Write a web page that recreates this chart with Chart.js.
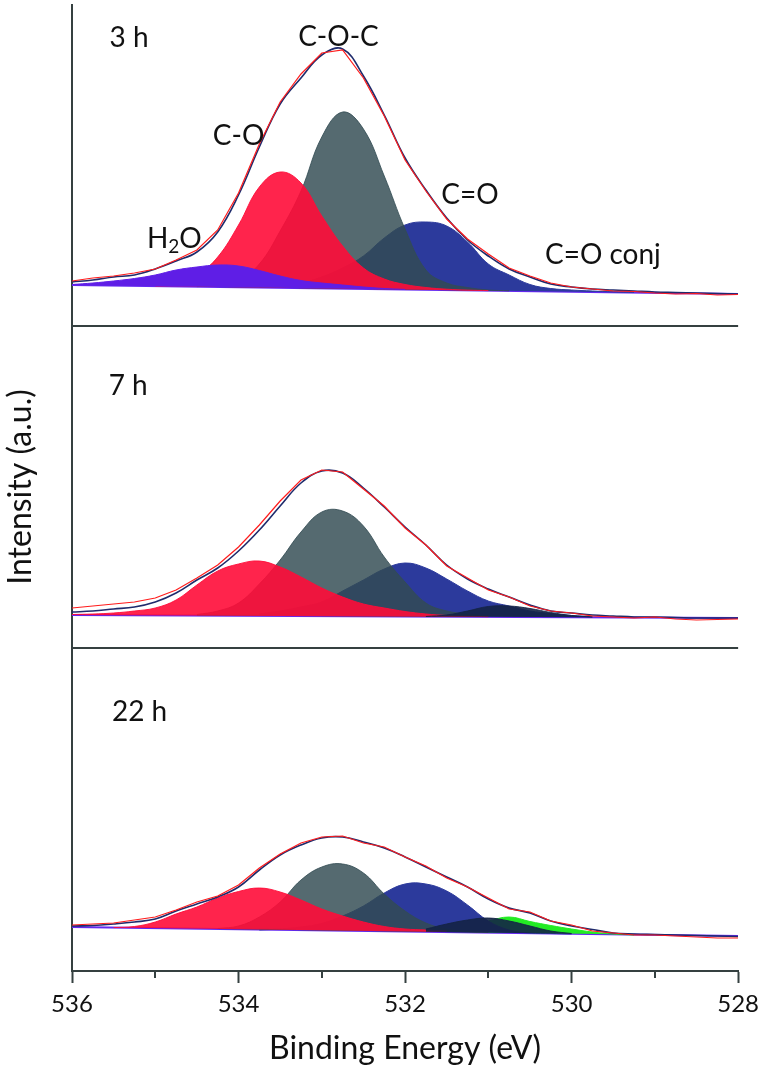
<!DOCTYPE html>
<html lang="en">
<head>
  <meta charset="UTF-8" />
  <title>O 1s spectra</title>
  <style>
    html, body { margin: 0; padding: 0; background: #fff; }
    #wrap { width: 766px; height: 1070px; }
  </style>
</head>
<body>
  <div id="wrap"><canvas id="xpsChart"></canvas></div>

  <script src="https://cdn.jsdelivr.net/npm/chart.js@4"></script>
  <script>
    // binding energy grid (eV), same for every curve
    const energies = [536, 535.75, 535.5, 535.25, 535, 534.75, 534.5, 534.25, 534, 533.75, 533.5, 533.25,
      533, 532.75, 532.5, 532.25, 532, 531.75, 531.5, 531.25, 531, 530.75, 530.5, 530.25,
      530, 529.75, 529.5, 529.25, 529, 528.75, 528.5, 528.25, 528];
    const xTicks = [536, 534, 532, 530, 528];

    // 3 h
    const raw3 = [45, 48, 50, 53, 57, 66, 76, 96, 133, 182, 224, 252, 273, 276, 248, 210, 166, 135, 107, 87, 72, 58, 50, 43, 39, 37, 35, 34.5, 33, 32, 32.5, 31, 31.5];
    const fit3 = [44, 46, 49, 51, 57, 65, 74, 94, 131, 179, 222, 248, 271, 277, 250, 211, 168, 136, 108, 86, 70, 57, 49, 42, 39, 37, 36, 35, 34, 33.5, 33, 32.5, 32];
    const h2o3 = [41.5, 43, 45, 47.5, 51, 56, 59, 61, 60, 55.5, 50, 45.5, 43, 41, 39, 37.5, 36.6,
      null, null, null, null, null, null, null, null, null, null, null, null, null, null, null, null];
    const co3 = [null, null, null, null, 40.5, 43, 51, 69, 101, 139, 154, 143, 110, 80, 58, 47, 41.5, 38.5, 36.8, 35.9, 35.4,
      null, null, null, null, null, null, null, null, null, null, null, null];
    const coc3 = [null, null, null, null, null, null, 39.4, 40.5, 46, 62, 95, 135, 189, 214, 197, 150, 97, 56, 43, 38.5, 36, 35.2,
      null, null, null, null, null, null, null, null, null, null, null];
    const cdo3 = [null, null, null, null, null, null, null, null, null, 39.2, 40.5, 43, 49, 58, 70, 88, 101, 104, 100, 84, 62, 51, 41.5, 37.5, 36, 35, 34.2, 33.6,
      null, null, null, null, null];
    const base3 = [{ x: 536, y: 41 }, { x: 528, y: 32 }];

    // 7 h
    const raw7 = [40, 42, 44, 46, 50, 58, 70, 83, 101, 123, 147, 168, 178, 176, 159, 142, 120, 103, 82, 70, 58, 51, 42, 37, 35, 32, 31, 30, 31, 29, 28, 28.5, 29];
    const fit7 = [36, 37, 39, 41, 46, 55, 68, 80, 97, 118, 142, 165, 177, 175, 160, 141, 121, 103, 83, 69, 59, 51, 43, 37, 35, 33, 32, 31, 31, 30.5, 30, 30, 30];
    const co7 = [33.5, 34, 35, 37, 40, 48, 63, 77, 84, 87, 81, 71, 60, 51, 44, 40, 36.5, 34, 32.5, 31.8, 31.3,
      null, null, null, null, null, null, null, null, null, null, null, null];
    const coc7 = [null, null, null, null, null, null, 33.5, 37, 45, 64, 88, 116, 136, 137, 122, 91, 66, 45, 37, 34, 32,
      null, null, null, null, null, null, null, null, null, null, null, null];
    const cdo7 = [null, null, null, null, null, null, null, null, null, 34, 37, 41, 46, 57, 68, 79, 85, 80, 69, 57, 47, 42, 37, 34.5, 32.5, 31.5,
      null, null, null, null, null, null, null];
    const conj7 = [null, null, null, null, null, null, null, null, null, null, null, null, null, null, null, null, null,
      31.5, 33, 37, 41.5, 42, 39.5, 35.5, 32.5, 31, null, null, null, null, null, null, null];
    const base7 = [{ x: 536, y: 33 }, { x: 528, y: 30 }];

    // 22 h
    const raw22 = [46, 47, 48, 51, 54, 61, 69, 75, 86, 103, 117, 128, 134, 135, 128, 124, 114, 105, 93, 84, 73, 62, 59, 50, 46, 40, 38, 36, 36, 35, 34, 33, 33];
    const fit22 = [45, 45.5, 47, 49, 52, 60, 67, 74, 84, 101, 116, 126, 133, 134, 129, 123, 114, 104, 94, 84, 72, 63, 58, 50, 45, 41.5, 38, 37, 36.5, 36, 35.5, 35, 34.5];
    const co22 = [null, null, 43.4, 44.5, 49, 57, 64, 73, 79.5, 83, 79, 71, 62, 55, 49, 44.5, 42, 41, 40,
      null, null, null, null, null, null, null, null, null, null, null, null, null, null];
    const coc22 = [null, null, null, null, null, null, null, 42.5, 45, 54, 69, 91, 104, 107, 98, 77, 60, 48, 42, 39.5, 38.5,
      null, null, null, null, null, null, null, null, null, null, null, null];
    const cdo22 = [null, null, null, null, null, null, null, null, null, 41, 42, 44, 47.5, 55, 65, 78, 87, 87, 80, 66, 50, 41, 38, 37.5, 37,
      null, null, null, null, null, null, null, null];
    const conj22 = [null, null, null, null, null, null, null, null, null, null, null, null, null, null, null, null, null,
      42, 47, 51, 53, 50, 45, 40, 37.5, null, null, null, null, null, null, null, null];
    const green22 = [null, null, null, null, null, null, null, null, null, null, null, null, null, null, null, null, null, null, null, null,
      50, 54, 49.5, 45.5, 42, 39, 37, 36, null, null, null, null, null];
    const base22 = [{ x: 536, y: 44 }, { x: 528, y: 35 }];

    const axisColor = '#354040';
    const colors = {
      raw: '#ff1c1c',
      fit: '#1f2b6c',
      h2o: 'rgb(95,30,230)',
      co: 'rgba(255,12,56,0.9)',
      coc: 'rgba(51,76,83,0.83)',
      cdo: 'rgb(44,58,156)',
      conj: 'rgba(20,35,70,0.9)',
      green: 'rgb(35,235,35)',
      base: 'rgb(100,40,240)'
    };

    // first dataset is drawn on top, so each panel lists its curves top-down
    const datasets = [];
    function addPanel(axis, raw, fit, peaks, base) {
      const baseIndex = datasets.length + 2 + peaks.length;
      datasets.push({ label: 'data', data: raw, yAxisID: axis, borderColor: colors.raw, borderWidth: 1.2, tension: 0, fill: false });
      datasets.push({ label: 'fit', data: fit, yAxisID: axis, borderColor: colors.fit, borderWidth: 1.6, tension: 0.4, fill: false });
      peaks.forEach(pk => {
        datasets.push({
          label: pk[0], data: pk[1], yAxisID: axis,
          borderColor: colors[pk[2]], backgroundColor: colors[pk[2]], borderWidth: 1,
          tension: 0.4, fill: baseIndex
        });
      });
      datasets.push({ label: 'background', data: base, yAxisID: axis, borderColor: colors.base, borderWidth: 2, fill: false });
    }
    addPanel('y3', raw3, fit3, [['H2O', h2o3, 'h2o'], ['C-O', co3, 'co'], ['C-O-C', coc3, 'coc'], ['C=O', cdo3, 'cdo']], base3);
    addPanel('y7', raw7, fit7, [['C=O conj', conj7, 'conj'], ['C-O', co7, 'co'], ['C-O-C', coc7, 'coc'], ['C=O', cdo7, 'cdo']], base7);
    addPanel('y22', raw22, fit22, [['C=O conj', conj22, 'conj'], ['C-O', co22, 'co'], ['C-O-C', coc22, 'coc'], ['C=O', cdo22, 'cdo'], ['O=C-O', green22, 'green']], base22);

    // text placed in data units of each panel
    const notes = [
      ['y3', '3 h', 535.55, 288, 'left'],
      ['y3', 'C-O-C', 532.8, 289, 'center'],
      ['y3', 'C-O', 534.0, 190, 'center'],
      ['y3', 'C=O', 531.22, 131, 'center'],
      ['y3', 'C=O conj', 530.32, 71, 'left'],
      ['y7', '7 h', 535.56, 262, 'left'],
      ['y22', '22 h', 535.52, 259, 'left']
    ];

    const panelText = {
      id: 'panelText',
      afterDatasetsDraw(chart) {
        const { ctx, chartArea, scales } = chart;
        ctx.save();
        ctx.strokeStyle = axisColor;
        ctx.lineWidth = 2;
        // panel separators
        ['y3', 'y7'].forEach(id => {
          const y = Math.round(scales[id].bottom);
          ctx.beginPath();
          ctx.moveTo(chartArea.left, y);
          ctx.lineTo(chartArea.right, y);
          ctx.stroke();
        });
        // short minor ticks at odd eV
        scales.x.ticks.forEach(t => {
          if (xTicks.includes(t.value)) return;
          const px = Math.round(scales.x.getPixelForValue(t.value));
          ctx.beginPath();
          ctx.moveTo(px, chartArea.bottom);
          ctx.lineTo(px, chartArea.bottom + 7);
          ctx.stroke();
        });
        ctx.fillStyle = '#111';
        ctx.textBaseline = 'middle';
        ctx.font = '28px Lato';
        notes.forEach(n => {
          ctx.textAlign = n[4];
          ctx.fillText(n[1], scales.x.getPixelForValue(n[2]), scales[n[0]].getPixelForValue(n[3]));
        });
        // H2O with subscript
        let x = scales.x.getPixelForValue(535.1);
        const y = scales.y3.getPixelForValue(87);
        ctx.textAlign = 'left';
        ctx.fillText('H', x, y);
        x += ctx.measureText('H').width;
        ctx.font = '19px Lato';
        ctx.fillText('2', x, y + 8);
        x += ctx.measureText('2').width;
        ctx.font = '28px Lato';
        ctx.fillText('O', x, y);
        ctx.restore();
      }
    };

    function panelAxis(weight, height, title) {
      return {
        type: 'linear',
        position: 'left',
        stack: 'panels',
        stackWeight: height,
        weight: weight,
        min: 0,
        max: height,
        ticks: { display: false },
        grid: { display: false },
        border: { display: true, color: axisColor, width: 2 },
        title: {
          display: !!title,
          text: title || '',
          color: '#111',
          font: { size: 32, family: 'Lato' },
          padding: { top: 1, bottom: 0 }
        },
        afterFit(scale) { scale.width = 72; }
      };
    }

    Chart.defaults.font.family = 'Lato';

    new Chart(document.getElementById('xpsChart'), {
      type: 'line',
      data: { labels: energies, datasets: datasets },
      options: {
        responsive: true,
        maintainAspectRatio: false,
        animation: false,
        layout: { padding: { top: 5, right: 5, bottom: 0, left: 0 } },
        elements: { point: { radius: 0 }, line: { spanGaps: false } },
        plugins: {
          legend: { display: false },
          tooltip: { enabled: false }
        },
        scales: {
          x: {
            type: 'linear',
            reverse: true,
            min: 528,
            max: 536,
            ticks: {
              stepSize: 1,
              autoSkip: false,
              maxRotation: 0,
              padding: 7,
              color: '#111',
              font: { size: 24 },
              callback: v => xTicks.includes(v) ? String(v) : ''
            },
            grid: {
              drawOnChartArea: false,
              drawTicks: true,
              tickLength: 12,
              tickWidth: 2,
              tickColor: c => (c.tick && xTicks.includes(c.tick.value)) ? axisColor : 'rgba(0,0,0,0)'
            },
            border: { display: true, color: axisColor, width: 2 },
            title: {
              display: true,
              text: 'Binding Energy (eV)',
              color: '#111',
              font: { size: 32 },
              padding: { top: 0, bottom: 2 }
            },
            afterFit(scale) { scale.height = 99; }
          },
          y3: panelAxis(3, 321),
          y7: panelAxis(2, 322, 'Intensity (a.u.)'),
          y22: panelAxis(1, 323)
        }
      },
      plugins: [panelText]
    });
  </script>
</body>
</html>
